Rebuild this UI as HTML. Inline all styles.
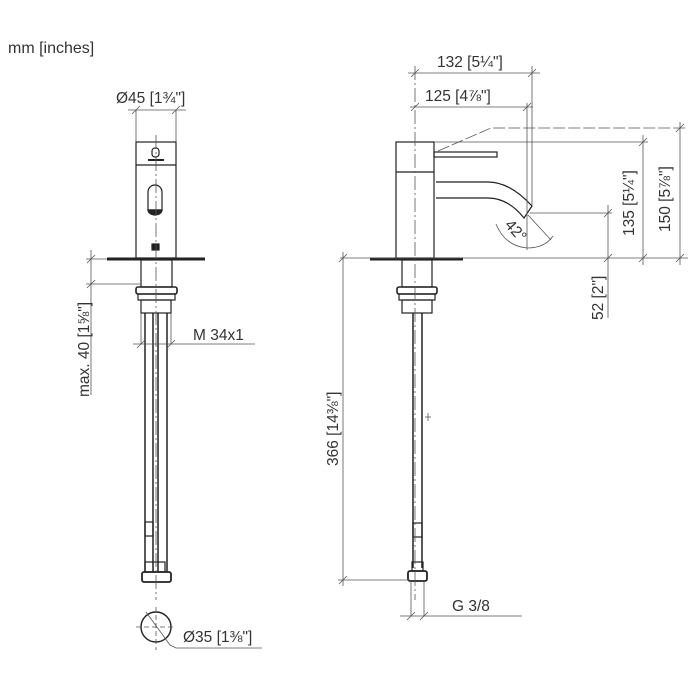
<!DOCTYPE html>
<html><head><meta charset="utf-8"><style>
html,body{margin:0;padding:0;background:#fff;width:700px;height:700px;overflow:hidden}
svg{display:block}
text{font-family:"Liberation Sans",sans-serif;fill:#333}
</style></head><body>
<svg width="700" height="700" viewBox="0 0 700 700" xmlns="http://www.w3.org/2000/svg">
<text x="8" y="53" font-size="16">mm [inches]</text>

<!-- ===== LEFT VIEW ===== -->
<g stroke="#222" fill="none" stroke-width="1.2">
 <rect x="136" y="142" width="40" height="116"/>
 <line x1="136" y1="165" x2="176" y2="165"/>
 <line x1="148" y1="160" x2="164" y2="160" stroke-width="2"/>
 <rect x="152" y="148" width="7" height="9" rx="3"/>
 <path d="M148 192 a7 7 0 0 1 14 0 v18 h-14 z"/>
 <path d="M148 210 a7 5 0 0 0 14 0 z" fill="#222"/>
 <rect x="152" y="244" width="7" height="6" fill="#222"/>
 <line x1="107" y1="259" x2="205" y2="259" stroke-width="3"/>
 <rect x="141" y="260" width="31" height="27"/>
 <rect x="136" y="287" width="41" height="7" rx="2" stroke-width="1.6"/>
 <rect x="138" y="294" width="37" height="6"/>
 <rect x="141" y="300" width="30" height="13"/>
 <line x1="145" y1="313" x2="145" y2="572" stroke-width="1.5"/>
 <line x1="153" y1="313" x2="153" y2="572" stroke-width="1.5"/>
 <line x1="158" y1="313" x2="158" y2="572" stroke-width="1.5"/>
 <line x1="167" y1="313" x2="167" y2="572" stroke-width="1.5"/>
 <rect x="145" y="522" width="8" height="14"/>
 <rect x="142" y="572" width="29" height="10" rx="2" stroke-width="1.8"/>
 <rect x="145" y="562" width="20" height="10"/>
 <circle cx="156" cy="627" r="15" stroke-width="1.4"/>
</g>
<g stroke="#555" fill="none" stroke-width="0.8">
 <line x1="156" y1="135" x2="156" y2="600" stroke-dasharray="14,3,2,3"/>
 <line x1="136" y1="110" x2="136" y2="142"/><line x1="176" y1="110" x2="176" y2="142"/>
 <line x1="128" y1="110" x2="186" y2="110"/>
 <line x1="132" y1="114" x2="140" y2="106"/><line x1="172" y1="114" x2="180" y2="106"/>
 <line x1="91" y1="250" x2="91" y2="395"/>
 <line x1="86" y1="259" x2="107" y2="259"/><line x1="86" y1="284" x2="141" y2="284"/>
 <line x1="87" y1="263" x2="95" y2="255"/><line x1="87" y1="288" x2="95" y2="280"/>
 <line x1="141" y1="313" x2="141" y2="344"/><line x1="171" y1="313" x2="171" y2="344"/>
 <line x1="133" y1="344" x2="255" y2="344"/>
 <line x1="137" y1="348" x2="145" y2="340"/><line x1="167" y1="348" x2="175" y2="340"/>
 <line x1="136" y1="627" x2="176" y2="627" stroke-dasharray="5,3"/>
 <line x1="156" y1="607" x2="156" y2="650" stroke-dasharray="5,3"/>
 <path d="M146 612 L170 645 L176 648 L262 648"/>
</g>
<text x="116" y="103" font-size="15.5">Ø45 [1¾"]</text>
<text x="193" y="340" font-size="15.5">M 34x1</text>
<text x="183" y="642" font-size="15.5">Ø35 [1⅜"]</text>
<text transform="translate(89,397) rotate(-90)" font-size="15.5">max. 40 [1⅝"]</text>

<!-- ===== RIGHT VIEW ===== -->
<g stroke="#222" fill="none" stroke-width="1.2">
 <rect x="396" y="142" width="38" height="116"/>
 <line x1="396" y1="172" x2="434" y2="172"/>
 <rect x="434" y="152" width="63" height="5"/>
 <path d="M436 182 H488 Q510 182 532 206 L524 218 Q508 198 488 198 H436"/>
 <line x1="370" y1="259" x2="463" y2="259" stroke-width="3"/>
 <rect x="402" y="260" width="30" height="27"/>
 <rect x="397" y="287" width="40" height="7" rx="2" stroke-width="1.6"/>
 <rect x="399" y="294" width="36" height="6"/>
 <rect x="402" y="300" width="30" height="13"/>
 <line x1="413" y1="313" x2="413" y2="568" stroke-width="1.5"/>
 <line x1="422" y1="313" x2="422" y2="568" stroke-width="1.5"/>
 <rect x="413" y="523" width="9" height="14"/>
 <rect x="408" y="571" width="19" height="10" rx="2" stroke-width="1.8"/>
 <rect x="412" y="562" width="11" height="9"/>
</g>
<g stroke="#555" fill="none" stroke-width="0.8">
 <line x1="415" y1="66" x2="415" y2="600" stroke-dasharray="14,3,2,3"/>
 <line x1="532" y1="66" x2="532" y2="205"/>
 <line x1="527" y1="103" x2="527" y2="250"/>
 <line x1="408" y1="73" x2="540" y2="73"/>
 <line x1="411" y1="77" x2="419" y2="69"/><line x1="528" y1="77" x2="536" y2="69"/>
 <line x1="410" y1="107" x2="533" y2="107"/>
 <line x1="411" y1="111" x2="419" y2="103"/><line x1="523" y1="111" x2="531" y2="103"/>
 <path d="M438 151 L491 128 L688 128" stroke-dasharray="12,3"/>
 <line x1="434" y1="142" x2="648" y2="142"/>
 <line x1="530" y1="213" x2="612" y2="213"/>
 <line x1="340" y1="258" x2="688" y2="258"/>
 <line x1="608" y1="205" x2="608" y2="318"/>
 <line x1="643" y1="135" x2="643" y2="265"/>
 <line x1="680" y1="122" x2="680" y2="265"/>
 <line x1="604" y1="217" x2="612" y2="209"/><line x1="604" y1="262" x2="612" y2="254"/>
 <line x1="639" y1="146" x2="647" y2="138"/><line x1="639" y1="262" x2="647" y2="254"/>
 <line x1="676" y1="132" x2="684" y2="124"/><line x1="676" y1="262" x2="684" y2="254"/>
 <line x1="528" y1="215" x2="551" y2="240"/>
 <path d="M496 224 Q505 246 527 248 Q545 248 553 236"/>
 <line x1="343" y1="252" x2="343" y2="586"/>
 <line x1="338" y1="580" x2="410" y2="580"/>
 <line x1="339" y1="262" x2="347" y2="254"/><line x1="339" y1="584" x2="347" y2="576"/>
 <line x1="411" y1="581" x2="411" y2="616"/><line x1="424" y1="581" x2="424" y2="616"/>
 <line x1="400" y1="616" x2="522" y2="616"/>
 <line x1="407" y1="620" x2="415" y2="612"/><line x1="420" y1="620" x2="428" y2="612"/>
 <line x1="425" y1="417" x2="431" y2="417"/><line x1="428" y1="413" x2="428" y2="421"/>
</g>
<text x="437" y="67" font-size="15.5">132 [5¼"]</text>
<text x="425" y="101" font-size="15.5">125 [4⅞"]</text>
<text transform="translate(512,234) rotate(48)" font-size="15.5" text-anchor="middle">42°</text>
<text transform="translate(634,236) rotate(-90)" font-size="15.5">135 [5¼"]</text>
<text transform="translate(670,232) rotate(-90)" font-size="15.5">150 [5⅞"]</text>
<text transform="translate(603,320) rotate(-90)" font-size="15.5">52 [2"]</text>
<text transform="translate(338,466) rotate(-90)" font-size="15.5">366 [14⅜"]</text>
<text x="452" y="611" font-size="15.5">G 3/8</text>
</svg>
</body></html>
